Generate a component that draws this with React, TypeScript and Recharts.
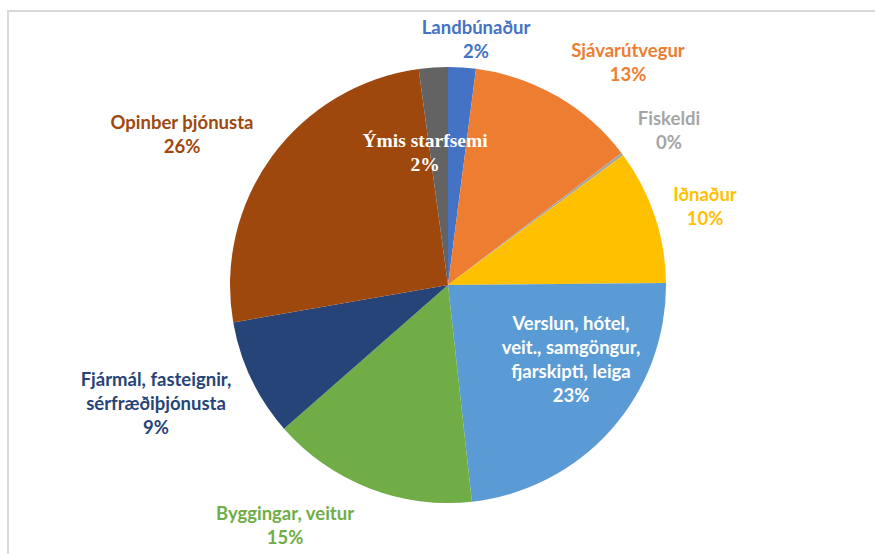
import { PieChart, Pie, Cell } from "recharts";

const sectors = [
  "Landbúnaður",
  "Sjávarútvegur",
  "Fiskeldi",
  "Iðnaður",
  "Verslun, hótel, veit., samgöngur, fjarskipti, leiga",
  "Byggingar, veitur",
  "Fjármál, fasteignir, sérfræðiþjónusta",
  "Opinber þjónusta",
  "Ýmis starfsemi",
];
const shares = [2.05, 12.6, 0.2, 10.0, 23.4, 15.3, 8.7, 25.6, 2.15];
const sectorColors = [
  "#4472C4",
  "#ED7D31",
  "#A5A5A5",
  "#FFC000",
  "#5B9BD5",
  "#70AD47",
  "#264478",
  "#9E480E",
  "#636363",
];

// how each label's name is broken into lines
const labelLines = [
  ["Landbúnaður"],
  ["Sjávarútvegur"],
  ["Fiskeldi"],
  ["Iðnaður"],
  ["Verslun, hótel,", "veit., samgöngur,", "fjarskipti, leiga"],
  ["Byggingar, veitur"],
  ["Fjármál, fasteignir,", "sérfræðiþjónusta"],
  ["Opinber þjónusta"],
  ["Ýmis starfsemi"],
];
// label block centre, offset from the pie centre
const labelOffsets = [
  [28, -246],
  [180, -223],
  [221, -155],
  [257, -79],
  [123, 74],
  [-163, 240],
  [-292, 118],
  [-266, -151],
  [-23, -133],
];
const labelColors = [
  "#4472C4",
  "#ED7D31",
  "#A5A5A5",
  "#FFC000",
  "#FFFFFF",
  "#70AD47",
  "#264478",
  "#9E480E",
  "#FFFFFF",
];

const data = sectors.map((name, i) => ({ name, value: shares[i] }));

const LINE_H = 24;

const renderLabel = (props: any) => {
  const { cx, cy, index, percent } = props;
  const lines = [...labelLines[index], `${Math.round(percent * 100)}%`];
  const [dx, dy] = labelOffsets[index];
  const x = cx + dx;
  const top = cy + dy - ((lines.length - 1) * LINE_H) / 2;
  const serif = index === 8;
  return (
    <text
      x={x}
      y={top}
      textAnchor="middle"
      dominantBaseline="central"
      fill={labelColors[index]}
      style={{
        fontFamily: serif ? "'Liberation Serif', serif" : "Lato, sans-serif",
        fontWeight: 700,
        fontSize: serif ? 19.5 : 18.5,
      }}
    >
      {lines.map((l, i) => (
        <tspan key={i} x={x} dy={i === 0 ? 0 : LINE_H}>
          {l}
        </tspan>
      ))}
    </text>
  );
};

const App = () => {
  return (
    <div
      style={{
        position: "absolute",
        left: 0,
        top: 0,
        width: 875,
        height: 554,
        background: "#fff",
      }}
    >
      <PieChart
        width={875}
        height={554}
        margin={{ top: 0, right: 0, bottom: 0, left: 0 }}
      >
        <Pie
          data={data}
          dataKey="value"
          nameKey="name"
          cx={448}
          cy={285}
          outerRadius={218}
          startAngle={90}
          endAngle={-270}
          stroke="none"
          label={renderLabel}
          labelLine={false}
          isAnimationActive={false}
        >
          {data.map((d, i) => (
            <Cell key={d.name} fill={sectorColors[i]} />
          ))}
        </Pie>
      </PieChart>
      <div
        style={{
          position: "absolute",
          left: 7,
          top: 10,
          width: 866,
          height: 544,
          borderTop: "2px solid #d9d9d9",
          borderLeft: "2px solid #d9d9d9",
          pointerEvents: "none",
        }}
      />
    </div>
  );
};

export default App;
